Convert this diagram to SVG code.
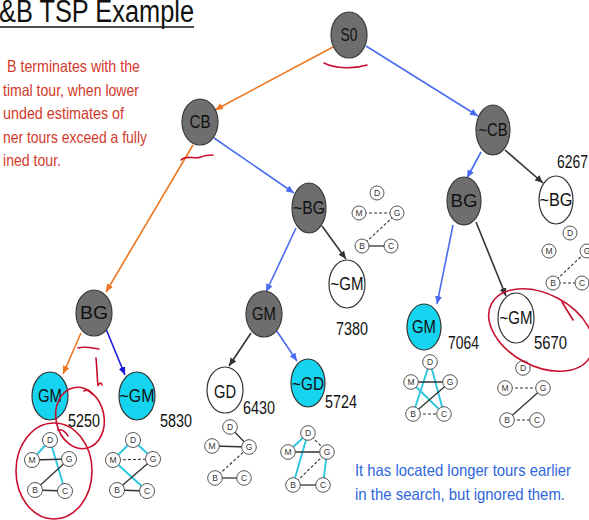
<svg xmlns="http://www.w3.org/2000/svg" width="589" height="520" viewBox="0 0 589 520">
<defs>
<style>
.dark{fill:#6e6e6e;stroke:#3a3a3a;stroke-width:1.2}
.cyan{fill:#14d4ef;stroke:#333;stroke-width:1.2}
.white{fill:#fff;stroke:#333;stroke-width:1.2}
.lbl{font-family:"Liberation Sans",Arial,sans-serif;font-size:18px;text-anchor:middle;fill:#111}
.num{font-family:"Liberation Sans",Arial,sans-serif;font-size:18px;fill:#111}
.red{font-family:"Liberation Sans",Arial,sans-serif;font-size:16.5px;fill:#d23a2c}
.blue{font-family:"Liberation Sans",Arial,sans-serif;font-size:16.5px;fill:#2f66dc}
.mini circle{fill:#fff;stroke:#555;stroke-width:1}
.mini text{font-family:"Liberation Sans",Arial,sans-serif;font-size:8.5px;fill:#333;text-anchor:middle}
.e{stroke:#333;stroke-width:1.3;fill:none}
.d{stroke:#333;stroke-width:1.1;stroke-dasharray:3 2;fill:none}
.c{stroke:#2cc8e0;stroke-width:1.9;fill:none}
.ann{stroke:#c8102e;stroke-width:1.6;fill:none;stroke-linecap:round}
.conn line{stroke-width:1.6}
</style>
<marker id="mo" markerWidth="8" markerHeight="7" refX="8" refY="3.5" orient="auto" markerUnits="userSpaceOnUse"><path d="M0,0 L8,3.5 L0,7 z" fill="#ee7722"/></marker>
<marker id="mb" markerWidth="8" markerHeight="7" refX="8" refY="3.5" orient="auto" markerUnits="userSpaceOnUse"><path d="M0,0 L8,3.5 L0,7 z" fill="#4a6cf0"/></marker>
<marker id="md" markerWidth="8" markerHeight="7" refX="8" refY="3.5" orient="auto" markerUnits="userSpaceOnUse"><path d="M0,0 L8,3.5 L0,7 z" fill="#1a1adb"/></marker>
<marker id="mk" markerWidth="8" markerHeight="7" refX="8" refY="3.5" orient="auto" markerUnits="userSpaceOnUse"><path d="M0,0 L8,3.5 L0,7 z" fill="#333"/></marker>
</defs>
<rect width="589" height="520" fill="#fff"/>

<g id="title">
<text x="-1" y="22" font-family="Liberation Sans,Arial,sans-serif" font-size="31" fill="#111" textLength="195" lengthAdjust="spacingAndGlyphs">&amp;B TSP Example</text>
<line x1="0" y1="27" x2="194" y2="27" stroke="#111" stroke-width="1.5"/>
</g>

<g id="note-red">
<text class="red" x="7" y="72" textLength="133" lengthAdjust="spacingAndGlyphs">B terminates with the</text>
<text class="red" x="3" y="95.5" textLength="136" lengthAdjust="spacingAndGlyphs">timal tour, when lower</text>
<text class="red" x="3" y="119" textLength="121" lengthAdjust="spacingAndGlyphs">unded estimates of</text>
<text class="red" x="3" y="142.5" textLength="144" lengthAdjust="spacingAndGlyphs">ner tours exceed a fully</text>
<text class="red" x="3" y="166" textLength="58" lengthAdjust="spacingAndGlyphs">ined tour.</text>
</g>

<g id="note-blue">
<text class="blue" x="355" y="476" textLength="216" lengthAdjust="spacingAndGlyphs">It has located longer tours earlier</text>
<text class="blue" x="355" y="500" textLength="210" lengthAdjust="spacingAndGlyphs">in the search, but ignored them.</text>
</g>

<g id="connectors" class="conn">
<line x1="333" y1="47" x2="215" y2="110" stroke="#ee7722" marker-end="url(#mo)"/>
<line x1="366" y1="46" x2="478" y2="116" stroke="#4a6cf0" marker-end="url(#mb)"/>
<line x1="214" y1="138" x2="294" y2="193" stroke="#4a6cf0" marker-end="url(#mb)"/>
<line x1="193" y1="145" x2="106" y2="292" stroke="#ee7722" marker-end="url(#mo)"/>
<line x1="81" y1="333" x2="63" y2="374" stroke="#ee7722" marker-end="url(#mo)"/>
<line x1="106" y1="329" x2="125" y2="375" stroke="#1a1adb" marker-end="url(#md)"/>
<line x1="296" y1="228" x2="266" y2="292" stroke="#4a6cf0" marker-end="url(#mb)"/>
<line x1="322" y1="226" x2="346" y2="259" stroke="#333" stroke-width="1.2" marker-end="url(#mk)"/>
<line x1="251" y1="333" x2="229" y2="366" stroke="#333" stroke-width="1.2" marker-end="url(#mk)"/>
<line x1="276" y1="330" x2="297" y2="361" stroke="#4a6cf0" marker-end="url(#mb)"/>
<line x1="481" y1="152" x2="467" y2="178" stroke="#4a6cf0" marker-end="url(#mb)"/>
<line x1="505" y1="150" x2="543" y2="183" stroke="#333" stroke-width="1.2" marker-end="url(#mk)"/>
<line x1="453" y1="225" x2="437" y2="304" stroke="#4a6cf0" marker-end="url(#mb)"/>
<line x1="476" y1="222" x2="506" y2="296" stroke="#333" stroke-width="1.2" marker-end="url(#mk)"/>
</g>

<g id="n-S0"><ellipse class="dark" cx="349" cy="35" rx="18" ry="23"/><text class="lbl" x="349" y="41" textLength="17" lengthAdjust="spacingAndGlyphs">S0</text></g>
<g id="n-CB"><ellipse class="dark" cx="200" cy="122" rx="18" ry="23"/><text class="lbl" x="200" y="128" textLength="21" lengthAdjust="spacingAndGlyphs">CB</text></g>
<g id="n-notCB"><ellipse class="dark" cx="493" cy="130" rx="17" ry="25"/><text class="lbl" x="493" y="136" textLength="29" lengthAdjust="spacingAndGlyphs">~CB</text></g>
<g id="n-notBG-mid"><ellipse class="dark" cx="309" cy="208" rx="17" ry="25"/><text class="lbl" x="309" y="214" textLength="32" lengthAdjust="spacingAndGlyphs">~BG</text></g>
<g id="n-BG-right"><ellipse class="dark" cx="464" cy="201" rx="17" ry="24"/><text class="lbl" x="464" y="207" textLength="27" lengthAdjust="spacingAndGlyphs">BG</text></g>
<g id="n-notBG-right"><ellipse class="white" cx="556" cy="200" rx="17" ry="24"/><text class="lbl" x="556" y="206" textLength="33" lengthAdjust="spacingAndGlyphs">~BG</text><text class="num" x="557" y="168" textLength="31" lengthAdjust="spacingAndGlyphs">6267</text></g>
<g id="n-notGM-mid"><ellipse class="white" cx="347" cy="284" rx="18" ry="24"/><text class="lbl" x="347" y="290" textLength="33" lengthAdjust="spacingAndGlyphs">~GM</text><text class="num" x="336" y="335" textLength="32" lengthAdjust="spacingAndGlyphs">7380</text></g>
<g id="n-GM-mid"><ellipse class="dark" cx="264" cy="314" rx="18" ry="23"/><text class="lbl" x="264" y="320" textLength="24" lengthAdjust="spacingAndGlyphs">GM</text></g>
<g id="n-GD"><ellipse class="white" cx="225" cy="390" rx="18" ry="23"/><text class="lbl" x="225" y="398" textLength="22" lengthAdjust="spacingAndGlyphs">GD</text><text class="num" x="243" y="414" textLength="32" lengthAdjust="spacingAndGlyphs">6430</text></g>
<g id="n-notGD"><ellipse class="cyan" cx="308" cy="383" rx="17" ry="24"/><text class="lbl" x="308" y="390" textLength="32" lengthAdjust="spacingAndGlyphs">~GD</text><text class="num" x="325" y="408" textLength="32" lengthAdjust="spacingAndGlyphs">5724</text></g>
<g id="n-BG-left"><ellipse class="dark" cx="94" cy="313" rx="18" ry="23"/><text class="lbl" x="94" y="319" textLength="28" lengthAdjust="spacingAndGlyphs">BG</text></g>
<g id="n-GM-left"><ellipse class="cyan" cx="50" cy="396" rx="18" ry="24"/><text class="lbl" x="50" y="402" textLength="24" lengthAdjust="spacingAndGlyphs">GM</text><text class="num" x="68" y="427" textLength="32" lengthAdjust="spacingAndGlyphs">5250</text></g>
<g id="n-notGM-left"><ellipse class="cyan" cx="137" cy="396" rx="18" ry="24"/><text class="lbl" x="137" y="402" textLength="35" lengthAdjust="spacingAndGlyphs">~GM</text><text class="num" x="160" y="427" textLength="32" lengthAdjust="spacingAndGlyphs">5830</text></g>
<g id="n-GM-right"><ellipse class="cyan" cx="424" cy="327" rx="17" ry="23"/><text class="lbl" x="424" y="333" textLength="24" lengthAdjust="spacingAndGlyphs">GM</text><text class="num" x="448" y="349" textLength="31" lengthAdjust="spacingAndGlyphs">7064</text></g>
<g id="n-notGM-right"><ellipse class="white" cx="516" cy="318" rx="18" ry="25"/><text class="lbl" x="516" y="324" textLength="33" lengthAdjust="spacingAndGlyphs">~GM</text><text class="num" x="534" y="349" textLength="33" lengthAdjust="spacingAndGlyphs">5670</text></g>

<g id="mini-1" class="mini">
<line class="c" x1="50" y1="440" x2="32" y2="460"/><line class="c" x1="50" y1="440" x2="65" y2="491"/>
<line class="e" x1="32" y1="460" x2="69" y2="459"/><line class="e" x1="35" y1="490" x2="69" y2="459"/><line class="e" x1="35" y1="490" x2="65" y2="491"/>
<circle cx="50" cy="440" r="7.5"/><text x="50" y="443">D</text>
<circle cx="32" cy="460" r="7.5"/><text x="32" y="463">M</text>
<circle cx="69" cy="459" r="7.5"/><text x="69" y="462">G</text>
<circle cx="35" cy="490" r="7.5"/><text x="35" y="493">B</text>
<circle cx="65" cy="491" r="7.5"/><text x="65" y="494">C</text>
</g>
<g id="mini-2" class="mini">
<line class="c" x1="133" y1="440" x2="113" y2="460"/><line class="c" x1="133" y1="440" x2="153" y2="459"/><line class="c" x1="113" y1="460" x2="147" y2="491"/>
<line class="d" x1="113" y1="460" x2="153" y2="459"/><line class="e" x1="117" y1="490" x2="153" y2="459"/><line class="e" x1="117" y1="490" x2="147" y2="491"/>
<circle cx="133" cy="440" r="7.5"/><text x="133" y="443">D</text>
<circle cx="113" cy="460" r="7.5"/><text x="113" y="463">M</text>
<circle cx="153" cy="459" r="7.5"/><text x="153" y="462">G</text>
<circle cx="117" cy="490" r="7.5"/><text x="117" y="493">B</text>
<circle cx="147" cy="491" r="7.5"/><text x="147" y="494">C</text>
</g>
<g id="mini-3" class="mini">
<line class="e" x1="230" y1="427" x2="249" y2="447"/><line class="e" x1="212" y1="446" x2="249" y2="447"/><line class="d" x1="215" y1="478" x2="249" y2="447"/><line class="e" x1="215" y1="478" x2="244" y2="478"/>
<circle cx="230" cy="427" r="7.3"/><text x="230" y="430">D</text>
<circle cx="212" cy="446" r="7.3"/><text x="212" y="449">M</text>
<circle cx="249" cy="447" r="7.3"/><text x="249" y="450">G</text>
<circle cx="215" cy="478" r="7.3"/><text x="215" y="481">B</text>
<circle cx="244" cy="478" r="7.3"/><text x="244" y="481">C</text>
</g>
<g id="mini-4" class="mini">
<line class="c" x1="308" y1="433" x2="288" y2="452"/><line class="c" x1="308" y1="433" x2="293" y2="485"/><line class="c" x1="327" y1="452" x2="323" y2="485"/>
<line class="d" x1="308" y1="433" x2="327" y2="452"/><line class="d" x1="293" y1="485" x2="327" y2="452"/>
<line class="e" x1="288" y1="452" x2="327" y2="452"/><line class="e" x1="293" y1="485" x2="323" y2="485"/>
<circle cx="308" cy="433" r="7.3"/><text x="308" y="436">D</text>
<circle cx="288" cy="452" r="7.3"/><text x="288" y="455">M</text>
<circle cx="327" cy="452" r="7.3"/><text x="327" y="455">G</text>
<circle cx="293" cy="485" r="7.3"/><text x="293" y="488">B</text>
<circle cx="323" cy="485" r="7.3"/><text x="323" y="488">C</text>
</g>
<g id="mini-5" class="mini">
<line class="c" x1="430" y1="362" x2="413" y2="414"/><line class="c" x1="430" y1="362" x2="444" y2="414"/><line class="c" x1="411" y1="382" x2="444" y2="414"/>
<line class="e" x1="411" y1="382" x2="450" y2="382"/><line class="e" x1="413" y1="414" x2="450" y2="382"/><line class="d" x1="413" y1="414" x2="444" y2="414"/>
<circle cx="430" cy="362" r="7.3"/><text x="430" y="365">D</text>
<circle cx="411" cy="382" r="7.3"/><text x="411" y="385">M</text>
<circle cx="450" cy="382" r="7.3"/><text x="450" y="385">G</text>
<circle cx="413" cy="414" r="7.3"/><text x="413" y="417">B</text>
<circle cx="444" cy="414" r="7.3"/><text x="444" y="417">C</text>
</g>
<g id="mini-6" class="mini">
<line class="d" x1="505" y1="388" x2="543" y2="388"/><line class="e" x1="507" y1="420" x2="543" y2="388"/><line class="d" x1="507" y1="420" x2="537" y2="420"/>
<circle cx="523" cy="368" r="7.3"/><text x="523" y="371">D</text>
<circle cx="505" cy="388" r="7.3"/><text x="505" y="391">M</text>
<circle cx="543" cy="388" r="7.3"/><text x="543" y="391">G</text>
<circle cx="507" cy="420" r="7.3"/><text x="507" y="423">B</text>
<circle cx="537" cy="420" r="7.3"/><text x="537" y="423">C</text>
</g>
<g id="mini-7" class="mini">
<line class="d" x1="359" y1="213" x2="397" y2="213"/><line class="d" x1="362" y1="246" x2="397" y2="213"/><line class="e" x1="362" y1="246" x2="391" y2="246"/>
<circle cx="377" cy="193" r="7"/><text x="377" y="196">D</text>
<circle cx="359" cy="213" r="7"/><text x="359" y="216">M</text>
<circle cx="397" cy="213" r="7"/><text x="397" y="216">G</text>
<circle cx="362" cy="246" r="7"/><text x="362" y="249">B</text>
<circle cx="391" cy="246" r="7"/><text x="391" y="249">C</text>
</g>
<g id="mini-8" class="mini">
<line class="d" x1="553" y1="283" x2="587" y2="251"/><line class="d" x1="553" y1="283" x2="582" y2="283"/>
<circle cx="570" cy="233" r="7"/><text x="570" y="236">D</text>
<circle cx="549" cy="251" r="7"/><text x="549" y="254">M</text>
<circle cx="587" cy="251" r="7"/><text x="587" y="254">G</text>
<circle cx="553" cy="283" r="7"/><text x="553" y="286">B</text>
<circle cx="582" cy="283" r="7"/><text x="582" y="286">C</text>
</g>

<g id="annotations">
<path class="ann" d="M324,63 C336,69 354,69 367,65"/>
<path class="ann" d="M181,160 C187,154 194,160 201,157 C205,155 209,155 213,155"/>
<path class="ann" d="M78,348 C85,346 92,348 99,349"/>
<path class="ann" d="M96,358 C97,368 97,377 98,386 C99,383 101,382 102,385"/>
<ellipse class="ann" cx="80" cy="418" rx="24" ry="31" transform="rotate(-12 80 418)"/>
<path class="ann" d="M84,391 C87,389 90,391 92,394"/>
<ellipse class="ann" cx="54" cy="471" rx="38" ry="48"/>
<path class="ann" d="M58,430 C62,429 66,432 68,436"/>
<ellipse class="ann" cx="541" cy="330" rx="56" ry="36" transform="rotate(28 541 330)"/>
<path class="ann" d="M562,302 L573,320"/>
</g>
</svg>
